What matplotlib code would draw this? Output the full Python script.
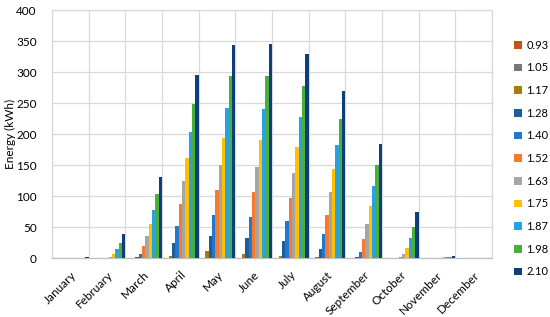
import numpy as np
import matplotlib.pyplot as plt

plt.rcParams['font.family'] = ['Lato', 'DejaVu Sans']

months = ['January', 'February', 'March', 'April', 'May', 'June', 'July',
          'August', 'September', 'October', 'November', 'December']
series = ['0.93', '1.05', '1.17', '1.28', '1.40', '1.52', '1.63', '1.75', '1.87', '1.98', '2.10']

e_093 = [0, 0, 0, 0, 0, 0, 0, 0, 0, 0, 0, 0]
e_105 = [0, 0, 0, 0, 0, 0, 0, 0, 0, 0, 0, 0]
e_117 = [0, 0, 0, 4, 11, 7, 4, 2, 0, 0, 0, 0]
e_128 = [0, 0, 1, 24, 35, 32, 27, 14, 1, 0, 0, 0]
e_140 = [0, 0, 7, 51, 70, 66, 59, 38, 10, 0, 0, 0]
e_152 = [0, 0, 19, 87, 110, 106, 97, 69, 30, 1, 0, 0]
e_163 = [0, 1, 36, 124, 150, 147, 137, 106, 55, 6, 0, 0]
e_175 = [0, 6, 55, 162, 194, 190, 179, 144, 84, 17, 1, 0]
e_187 = [0, 14, 78, 203, 242, 241, 227, 183, 117, 32, 1, 0]
e_198 = [0, 25, 103, 248, 293, 293, 277, 224, 150, 50, 2, 0]
e_210 = [1, 39, 130, 296, 343, 346, 329, 269, 184, 74, 4, 0]

values = [e_093, e_105, e_117, e_128, e_140, e_152, e_163, e_175, e_187, e_198, e_210]
colors = ['#C5511A', '#777777', '#A87B12', '#1D5E98', '#1F77D0', '#F47B2E',
          '#A5A5A5', '#FFC000', '#28A2E2', '#4AAF3E', '#0E3F7A']

fig = plt.figure(figsize=(5.5, 3.17), dpi=100)
ax = fig.add_axes([0.0945, 0.186, 0.80, 0.782])

x = np.arange(len(months))
n = len(series)
w = 1.0 / n * 0.97
for j, (name, vals) in enumerate(zip(series, values)):
    ax.bar(x + (j - (n - 1) / 2) * (1.0 / n), vals, width=w, color=colors[j],
           label=name, zorder=3)

ax.set_xlim(-0.5, len(months) - 0.5)
ax.set_ylim(0, 400)
ax.set_yticks(np.arange(0, 401, 50))
ax.set_xticks(x)
ax.set_xticklabels(months, rotation=45, ha='right', va='top',
                   rotation_mode='anchor', fontsize=8.5)
ax.tick_params(axis='y', labelsize=8.5, length=0, pad=11)
ax.tick_params(axis='x', length=0, pad=8)

# category separators
ax.set_xticks(np.arange(-0.5, len(months), 1), minor=True)
ax.tick_params(axis='x', which='minor', length=0)
ax.grid(axis='y', color='#D9D9D9', linewidth=0.9, zorder=0)
ax.grid(axis='x', which='minor', color='#D9D9D9', linewidth=0.9, zorder=0)
for s in ax.spines.values():
    s.set_color('#D9D9D9')
    s.set_linewidth(0.9)
ax.spines['bottom'].set_color('#BFBFBF')

ax.set_ylabel('Energy (kWh)', fontsize=8.5)
ax.yaxis.set_label_coords(-0.082, 0.5)

fig.legend(loc='center left', bbox_to_anchor=(0.925, 0.5), frameon=False,
           fontsize=8, handlelength=0.7, handleheight=0.7, handletextpad=0.4,
           labelspacing=1.05, borderpad=0)

fig.savefig('out.png', dpi=100)
